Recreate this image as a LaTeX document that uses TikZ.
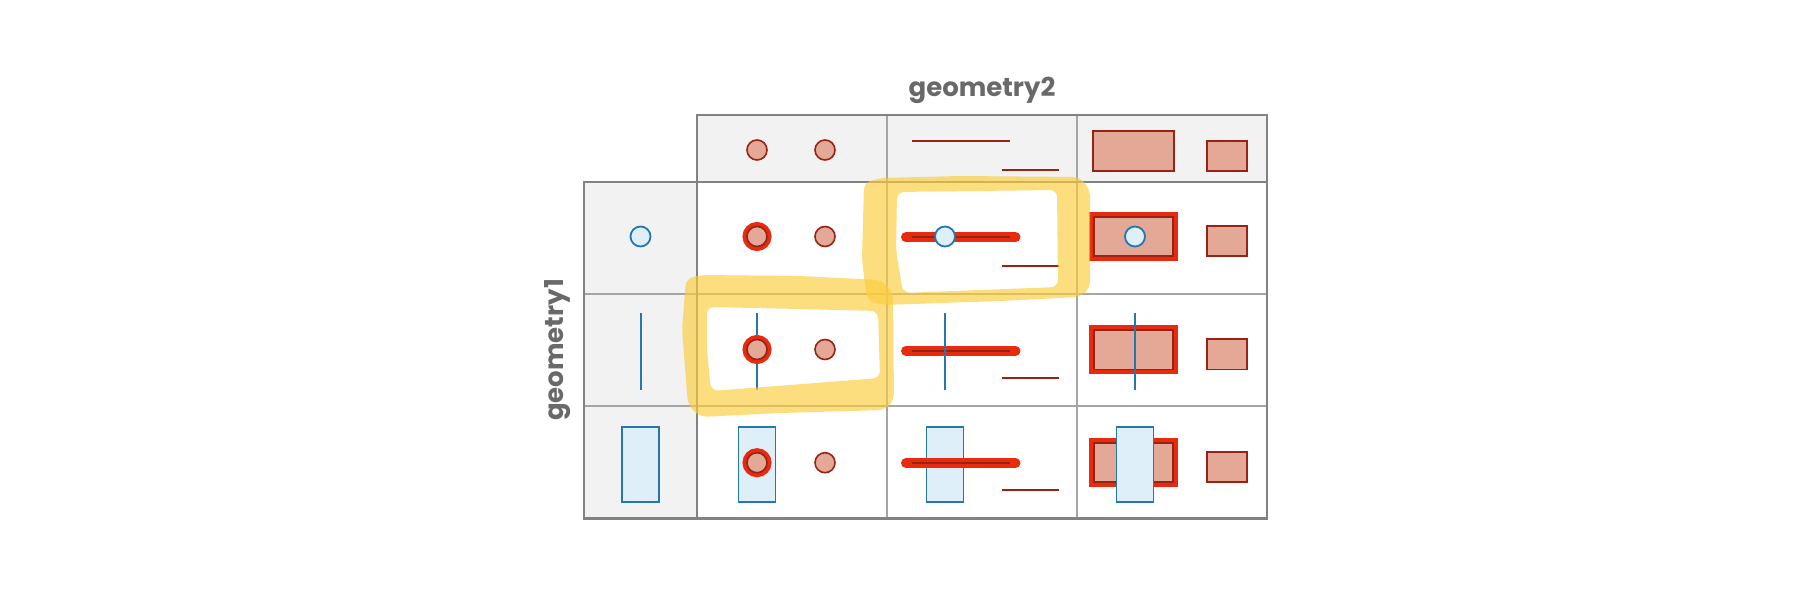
\documentclass[tikz,border=0pt]{standalone}
\usepackage{fontspec}
\setmainfont{Poppins}
\definecolor{gridc}{RGB}{130,130,130}
\definecolor{gridi}{RGB}{165,165,165}
\definecolor{hdr}{RGB}{242,242,242}
\definecolor{gtwofill}{RGB}{228,168,150}
\definecolor{gtwoline}{RGB}{150,35,20}
\definecolor{hired}{RGB}{232,42,15}
\definecolor{gonefill}{RGB}{222,239,250}
\definecolor{goneline}{RGB}{35,120,175}
\definecolor{hl}{RGB}{252,205,60}
\definecolor{txt}{RGB}{105,105,105}
\tikzset{
  gtwo/.style={draw=gtwoline, fill=gtwofill, line width=1.6pt},
  gtwol/.style={draw=gtwoline, line width=1.8pt},
  hiarea/.style={draw=hired, line width=10pt},
  hiline/.style={draw=hired, line width=10pt, line cap=round},
  hicirc/.style={draw=hired, line width=9pt},
  gone/.style={draw=goneline, fill=gonefill, line width=1.8pt},
  gonel/.style={draw=goneline, line width=2pt},
  outer/.style={draw=gridc, line width=2.2pt},
  inner/.style={draw=gridi, line width=1.2pt},
  axlabel/.style={text=txt, font=\bfseries\fontsize{26}{30}\selectfont, inner sep=0pt},
  marker/.style={fill=hl, fill opacity=0.66, even odd rule, rounded corners=7pt}
}
\begin{document}
\begin{tikzpicture}[x=1pt,y=-1pt]
\useasboundingbox (0,0) rectangle (1801,601);
\fill[white] (0,0) rectangle (1801,601);
% ---------- grid ----------
\fill[hdr] (697,115) rectangle (1267,182);
\fill[hdr] (584,182) rectangle (697,518.5);
\draw[inner] (887,115) -- (887,518.5);
\draw[inner] (1077,115) -- (1077,518.5);
\draw[inner] (584,294) -- (1267,294);
\draw[inner] (584,406) -- (1267,406);
\draw[outer] (697,182) -- (697,115) -- (1267,115) -- (1267,518.5) -- (584,518.5) -- (584,182) -- (1267,182);
\draw[outer] (697,182) -- (697,518.5);
% ---------- labels ----------
\node[axlabel, anchor=base] (lab2) at (982,97) {geometry2};
\node[axlabel, anchor=base, rotate=90] (lab1) at (563,350) {geometry1};
% ---------- header row (geometry2) ----------
\draw[gtwo] (757,150) circle[radius=10pt];
\draw[gtwo] (825,150) circle[radius=10pt];
\draw[gtwol] (911.7,141) -- (1010,141);
\draw[gtwol] (1001.7,170) -- (1059,170);
\draw[gtwo] (1093,131) rectangle (1174,171);
\draw[gtwo] (1207,141) rectangle (1247,171);
% ---------- left column (geometry1) ----------
\draw[gone] (640.5,236.5) circle[radius=10pt];
\draw[gonel] (640.5,313) -- (640.5,390);
\draw[gone] (622,427.3) rectangle (659,501.7);
% ================= row 1 (point) =================
% col 1
\draw[gone] (757,236.5) circle[radius=10pt];
\draw[hicirc] (757,236.5) circle[radius=10pt];
\draw[gtwo] (757,236.5) circle[radius=10pt];
\draw[gtwo] (825,236.5) circle[radius=10pt];
% col 2
\draw[hiline] (906,237.3) -- (1015.5,237.3);
\draw[gtwol] (911.7,237.3) -- (1010,237.3);
\draw[gtwol] (1001.7,265.7) -- (1059,265.7);
\draw[gone] (945,236.5) circle[radius=10pt];
% col 3
\draw[hiarea] (1094,217) rectangle (1173,256);
\draw[gtwo] (1094,217) rectangle (1173,256);
\draw[gtwo] (1207,226) rectangle (1247,256);
\draw[gone] (1135,236.5) circle[radius=10pt];
% ================= row 2 (line) =================
% col 1
\draw[gonel] (757,313) -- (757,390);
\draw[hicirc] (757,349.5) circle[radius=10pt];
\draw[gtwo] (757,349.5) circle[radius=10pt];
\draw[gtwo] (825,349.5) circle[radius=10pt];
% col 2
\draw[hiline] (906,350.7) -- (1015.5,350.7);
\draw[gtwol] (911.7,350.7) -- (1010,350.7);
\draw[gtwol] (1001.7,378.3) -- (1059,378.3);
\draw[gonel] (945,313) -- (945,390);
% col 3
\draw[hiarea] (1094,330.3) rectangle (1173,369.3);
\draw[gtwo] (1094,330.3) rectangle (1173,369.3);
\draw[gtwo] (1207,339.3) rectangle (1247,369.3);
\draw[gonel] (1135,313) -- (1135,390);
% ================= row 3 (polygon) =================
% col 1
\draw[gone] (738.5,427.3) rectangle (775.5,501.7);
\draw[hicirc] (757,462.7) circle[radius=10pt];
\draw[gtwo] (757,462.7) circle[radius=10pt];
\draw[gtwo] (825,462.7) circle[radius=10pt];
% col 2
\draw[gone] (926.5,427.3) rectangle (963.5,501.7);
\draw[hiline] (906,463) -- (1015.5,463);
\draw[gtwol] (911.7,463) -- (1010,463);
\draw[gtwol] (1001.7,490) -- (1059,490);
% col 3
\draw[hiarea] (1094,443) rectangle (1173,482);
\draw[gtwo] (1094,443) rectangle (1173,482);
\draw[gtwo] (1207,452) rectangle (1247,482);
\draw[gone] (1116.5,427.3) rectangle (1153.5,501.7);
% ---------- yellow marker strokes ----------
\fill[marker]
  (864,183) -- (880,178) -- (960,176) -- (1080,177) -- (1090,190) -- (1090,288) -- (1080,297)
  -- (1000,301) -- (882,305) -- (867,300) -- (862,260) -- cycle
  (897,192) -- (1057,190) -- (1058,287) -- (903,293) -- (896,250) -- cycle;
\fill[marker]
  (686,279) -- (700,275) -- (800,276) -- (881,280) -- (893,292) -- (894,400) -- (885,410)
  -- (780,413) -- (700,417) -- (688,405) -- (682,330) -- cycle
  (707,307) -- (800,309) -- (878,311) -- (880,378) -- (790,385) -- (711,391) -- (707,350) -- cycle;
\end{tikzpicture}
\end{document}
